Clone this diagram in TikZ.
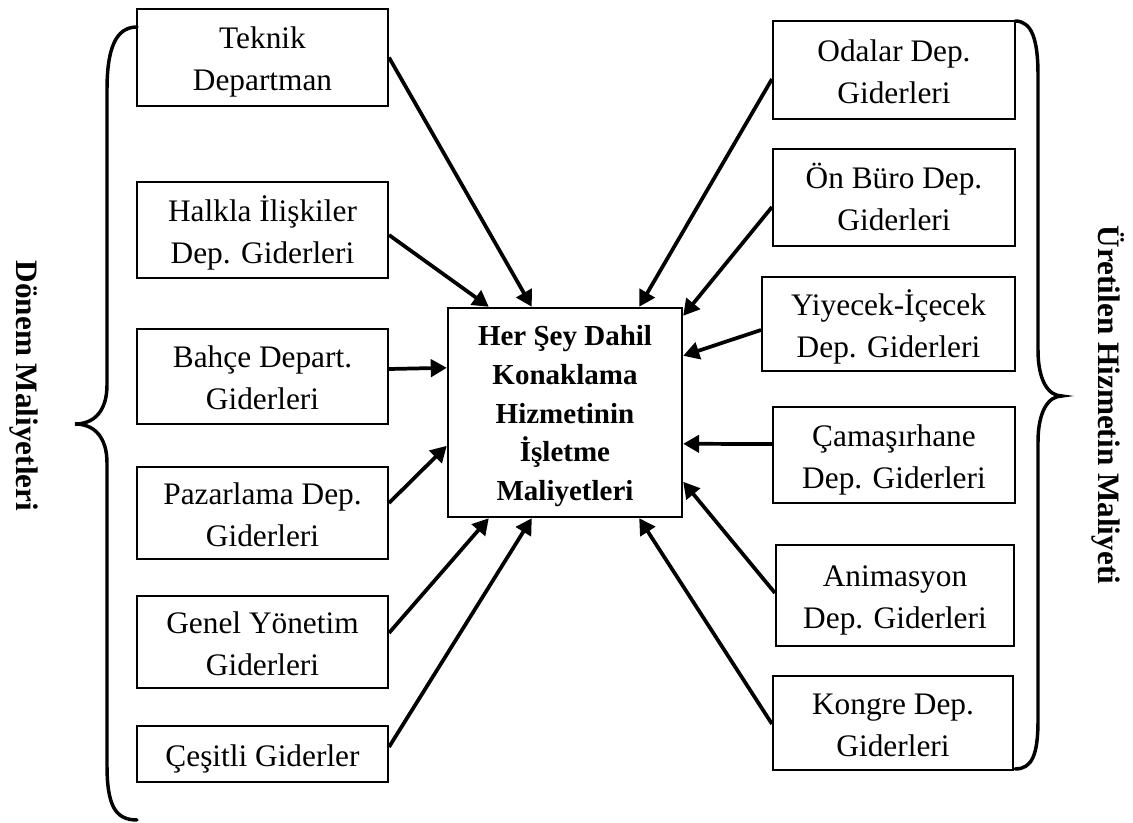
\documentclass[tikz,border=0pt]{standalone}
\usepackage{fontspec}
\setmainfont{Liberation Serif}
\usetikzlibrary{arrows.meta,calc}
\newcommand{\topstr}{\rule{0pt}{24.7pt}}
\newcommand{\botstr}{\rule[-6pt]{0pt}{6pt}}
\newcommand{\ctopstr}{\rule{0pt}{21.8pt}}
\newcommand{\cbotstr}{\rule[-6pt]{0pt}{6pt}}
\begin{document}
\begin{tikzpicture}[x=0.75pt,y=-0.75pt,
  box/.style={draw,line width=1.5pt,inner sep=0pt,align=center,
    font=\fontsize{23.5}{31.5}\selectfont},
  centerbox/.style={draw,line width=1.8pt,inner sep=0pt,align=center,
    font=\fontsize{21.75}{28.9}\selectfont\bfseries},
  sidelabel/.style={font=\fontsize{23.4}{28}\selectfont\bfseries,rotate=-90},
  conn/.style={line width=2.8pt,-{Triangle[length=12pt,width=13pt]}},
  bracepath/.style={line width=2.6pt,line cap=round}]
\useasboundingbox (0,0) rectangle (1133,823);
% left boxes
\node[box,minimum width=188.25pt,minimum height=72.75pt] (teknik) at (262.5,57.5) {\topstr Teknik\\Departman\botstr};
\node[box,minimum width=188.25pt,minimum height=72pt] (halkla) at (262.5,230) {\topstr Halkla İlişkiler\\Dep. Giderleri\botstr};
\node[box,minimum width=188.25pt,minimum height=71.25pt] (bahce) at (262.5,376.5) {\topstr Bahçe Depart.\\Giderleri\botstr};
\node[box,minimum width=188.25pt,minimum height=69pt] (pazar) at (262.5,513) {\topstr Pazarlama Dep.\\Giderleri\botstr};
\node[box,minimum width=188.25pt,minimum height=69pt] (genel) at (262.5,642) {\topstr Genel Yönetim\\Giderleri\botstr};
\node[box,minimum width=188.25pt,minimum height=42pt] (cesitli) at (262.5,754) {\topstr Çeşitli Giderler\botstr};
% right boxes
\node[box,minimum width=181.5pt,minimum height=73.5pt] (odalar) at (894,70) {\topstr Odalar Dep.\\Giderleri\botstr};
\node[box,minimum width=181.5pt,minimum height=72.75pt] (onburo) at (894,197.5) {\topstr Ön Büro Dep.\\Giderleri\botstr};
\node[box,minimum width=189.75pt,minimum height=70.5pt] (yiyecek) at (888.5,324) {\topstr Yiyecek-İçecek\\Dep. Giderleri\botstr};
\node[box,minimum width=181.5pt,minimum height=72pt] (camasir) at (894,455) {\topstr Çamaşırhane\\Dep. Giderleri\botstr};
\node[box,minimum width=178.5pt,minimum height=75.75pt] (animasyon) at (895,595.5) {\topstr Animasyon\\Dep. Giderleri\botstr};
\node[box,minimum width=180pt,minimum height=70.5pt] (kongre) at (893,723) {\topstr Kongre Dep.\\Giderleri\botstr};
% center
\node[centerbox,minimum width=175.5pt,minimum height=156.75pt] (c) at (565,412.5) {\ctopstr Her Şey Dahil\\Konaklama\\Hizmetinin\\İşletme\\Maliyetleri\cbotstr};
% side labels
\node[sidelabel] (donem) at (24,386) {Dönem Maliyetleri};
\node[sidelabel] (uretilen) at (1108,405) {Üretilen Hizmetin Maliyeti};
% left connectors
\draw[conn] (teknik.east) -- ($(c.north west)+(85,0)$);
\draw[conn] ($(halkla.east)+(0,5)$) -- ($(c.north west)+(42,0)$);
\draw[conn] ($(bahce.east)+(0,-7.5)$) -- ($(c.north west)+(0,61)$);
\draw[conn] ($(pazar.east)+(0,-10)$) -- ($(c.north west)+(0,139)$);
\draw[conn] ($(genel.east)+(0,-9)$) -- ($(c.south west)+(42,0)$);
\draw[conn] ($(cesitli.east)+(0,-7)$) -- ($(c.south west)+(85,0)$);
% right connectors
\draw[conn] ($(odalar.west)+(0,9)$) -- ($(c.north east)+(-44,0)$);
\draw[conn] ($(onburo.west)+(0,9.5)$) -- ($(c.north east)+(0,9)$);
\draw[conn] ($(yiyecek.west)+(0,6)$) -- ($(c.north east)+(0,49)$);
\draw[conn] ($(camasir.west)+(0,-11)$) -- ($(c.north east)+(0,137)$);
\draw[conn] ($(animasyon.west)+(0,-2.5)$) -- ($(c.north east)+(0,175)$);
\draw[conn] ($(kongre.west)+(0,1)$) -- ($(c.south east)+(-44,0)$);
% braces
\draw[bracepath] (137,27) .. controls (115,27) and (107,50) .. (107,90) -- (107,385)
  .. controls (107,410) and (95,424) .. (75,424)
  .. controls (95,424) and (107,438) .. (107,463) -- (107,765)
  .. controls (107,805) and (115,820) .. (137,820);
\draw[bracepath] (1015,21) .. controls (1032,21) and (1038,40) .. (1038,75) -- (1038,350)
  .. controls (1038,380) and (1048,396) .. (1062,396)
  .. controls (1048,396) and (1038,412) .. (1038,442) -- (1038,720)
  .. controls (1038,755) and (1032,769) .. (1015,769);
\end{tikzpicture}
\end{document}
